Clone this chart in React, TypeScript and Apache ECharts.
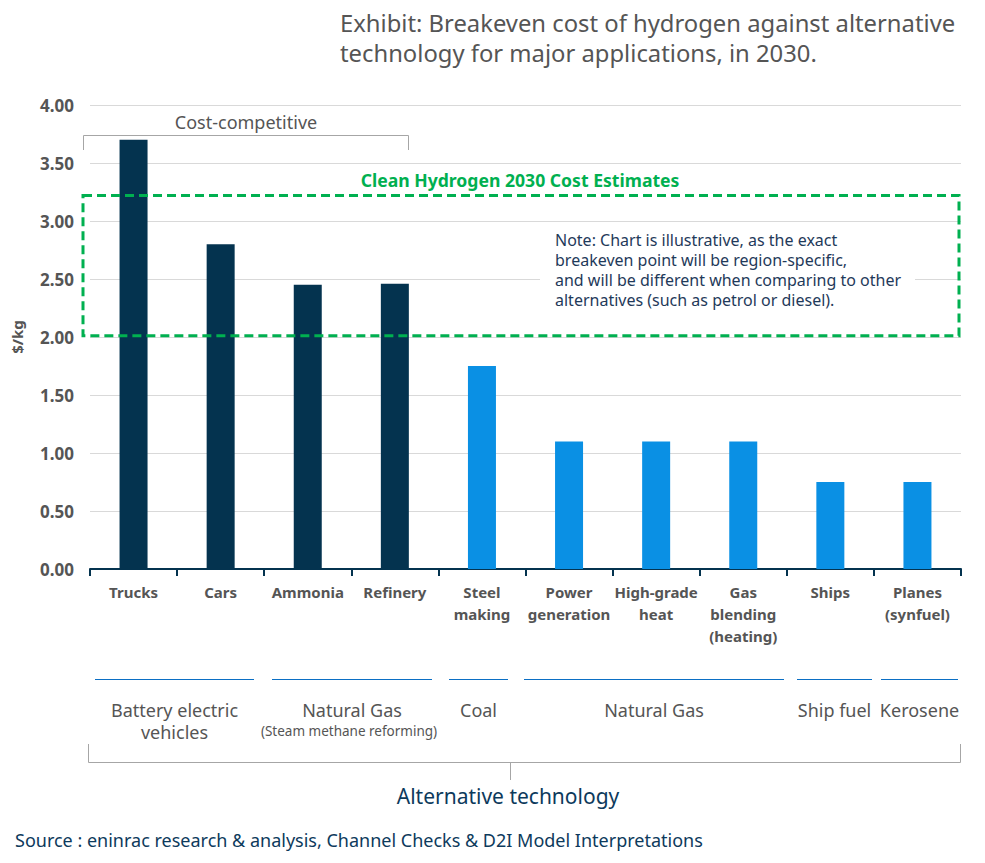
import React, { useEffect, useRef } from "react";
import * as echarts from "echarts";

const categories = [
  "Trucks", "Cars", "Ammonia", "Refinery", "Steel\nmaking", "Power\ngeneration",
  "High-grade\nheat", "Gas\nblending\n(heating)", "Ships", "Planes\n(synfuel)",
];
const values = [3.7, 2.8, 2.45, 2.46, 1.75, 1.1, 1.1, 1.1, 0.75, 0.75];
const competitive = [true, true, true, true, false, false, false, false, false, false];
const yTicks = [0, 0.5, 1, 1.5, 2, 2.5, 3, 3.5, 4];
const estimateRange = [2.01, 3.22];
const groups = [
  { label: "Battery electric\nvehicles", x1: 95, x2: 254 },
  { label: "Natural Gas", x1: 272, x2: 432 },
  { label: "Coal", x1: 449, x2: 508 },
  { label: "Natural Gas", x1: 524, x2: 784 },
  { label: "Ship fuel", x1: 797, x2: 872 },
  { label: "Kerosene", x1: 881, x2: 958 },
];
const noteLines = [
  "Note: Chart is illustrative, as the exact",
  "breakeven point will be region-specific,",
  "and will be different when comparing to other",
  "alternatives (such as petrol or diesel).",
];

const FONT = "'Noto Sans', 'Open Sans', sans-serif";
const NAVY = "#04334F";
const BLUE = "#0A90E4";
const GRAY = "#555555";
const GREEN = "#00B050";

export default function App() {
  const ref = useRef<HTMLDivElement>(null);
  useEffect(() => {
    if (!ref.current) return;
    const chart = echarts.init(ref.current, null, { renderer: "svg" });
    chart.setOption({
      animation: false,
      textStyle: { fontFamily: FONT },
      grid: { left: 90, right: 24, top: 105, bottom: 294, containLabel: false },
      xAxis: {
        type: "category",
        data: categories,
        axisLine: { lineStyle: { color: NAVY, width: 2 } },
        axisTick: { show: true, length: 7, lineStyle: { color: NAVY, width: 2 } },
        axisLabel: {
          color: GRAY, fontWeight: "bold", fontSize: 15, lineHeight: 22,
          margin: 12, fontFamily: FONT, interval: 0,
        },
      },
      yAxis: {
        type: "value",
        min: yTicks[0],
        max: yTicks[yTicks.length - 1],
        interval: 0.5,
        name: "$/kg",
        nameLocation: "middle",
        nameGap: 66,
        nameTextStyle: { color: GRAY, fontWeight: "bold", fontSize: 15, fontFamily: FONT },
        axisLine: { show: false },
        axisTick: { show: false },
        axisLabel: {
          color: GRAY, fontWeight: "bold", fontSize: 17, margin: 16, fontFamily: FONT,
          formatter: (v: number) => v.toFixed(2),
        },
        splitLine: { lineStyle: { color: "#D9D9D9", width: 1 } },
      },
      series: [
        {
          type: "bar",
          barWidth: 28,
          data: values.map((v, i) => ({
            value: v,
            itemStyle: { color: competitive[i] ? NAVY : BLUE },
          })),
        },
      ],
    });

    const yTop = chart.convertToPixel({ yAxisIndex: 0 }, estimateRange[1]) as number;
    const yBot = chart.convertToPixel({ yAxisIndex: 0 }, estimateRange[0]) as number;
    const yNote = chart.convertToPixel({ yAxisIndex: 0 }, 2.5) as number;

    const graphics: any[] = [
      {
        type: "text", left: 340, top: 8,
        style: {
          text: "Exhibit: Breakeven cost of hydrogen against alternative\ntechnology for major applications, in 2030.",
          fill: GRAY, font: `23.8px ${FONT}`, lineHeight: 30,
        },
      },
      {
        type: "polyline",
        shape: { points: [[83.5, 150], [83.5, 135.5], [408.5, 135.5], [408.5, 150]] },
        style: { stroke: "#A6A6A6", lineWidth: 1, fill: null },
      },
      {
        type: "text", x: 246, y: 122,
        style: { text: "Cost-competitive", fill: GRAY, font: `18px ${FONT}`, align: "center", verticalAlign: "middle" },
      },
      {
        type: "rect", shape: { x: 540, y: yNote - 45, width: 375, height: 80 },
        style: { fill: "#ffffff" }, z: 10,
      },
      {
        type: "text", x: 555, y: 230, z: 11,
        style: { text: noteLines.join("\n"), fill: "#1F3A5A", font: `16px ${FONT}`, lineHeight: 20 },
      },
      {
        type: "rect", z: 20,
        shape: { x: 83, y: yTop, width: 876, height: yBot - yTop },
        style: { fill: null, stroke: GREEN, lineWidth: 3, lineDash: [9, 5] },
      },
      {
        type: "text", x: 520, y: 180, z: 20,
        style: {
          text: "Clean Hydrogen 2030 Cost Estimates", fill: GREEN,
          font: `bold 17.6px ${FONT}`, align: "center", verticalAlign: "middle",
        },
      },
      {
        type: "polyline",
        shape: { points: [[88.5, 744], [88.5, 762.5], [960.5, 762.5], [960.5, 744]] },
        style: { stroke: "#A6A6A6", lineWidth: 1, fill: null },
      },
      {
        type: "line", shape: { x1: 510.5, y1: 762, x2: 510.5, y2: 780 },
        style: { stroke: "#A6A6A6", lineWidth: 1 },
      },
      {
        type: "text", x: 508, y: 796,
        style: { text: "Alternative technology", fill: "#0D3A5C", font: `21px ${FONT}`, align: "center", verticalAlign: "middle" },
      },
      {
        type: "text", x: 15, y: 840,
        style: { text: "Source : eninrac research & analysis, Channel Checks & D2I Model Interpretations", fill: "#0D3A5C", font: `18px ${FONT}`, verticalAlign: "middle" },
      },
      {
        type: "text", x: 349, y: 731,
        style: { text: "(Steam methane reforming)", fill: GRAY, font: `13.5px ${FONT}`, align: "center", verticalAlign: "middle" },
      },
    ];

    groups.forEach((g) => {
      graphics.push({
        type: "line", shape: { x1: g.x1, y1: 679.5, x2: g.x2, y2: 679.5 },
        style: { stroke: "#0B6FC4", lineWidth: 1 },
      });
      graphics.push({
        type: "text", x: (g.x1 + g.x2) / 2, y: 699,
        style: { text: g.label, fill: GRAY, font: `18px ${FONT}`, align: "center", lineHeight: 22 },
      });
    });

    chart.setOption({ graphic: graphics });
    return () => chart.dispose();
  }, []);
  return (
    <div
      ref={ref}
      style={{ position: "absolute", left: 0, top: 0, width: 985, height: 863 }}
    />
  );
}
